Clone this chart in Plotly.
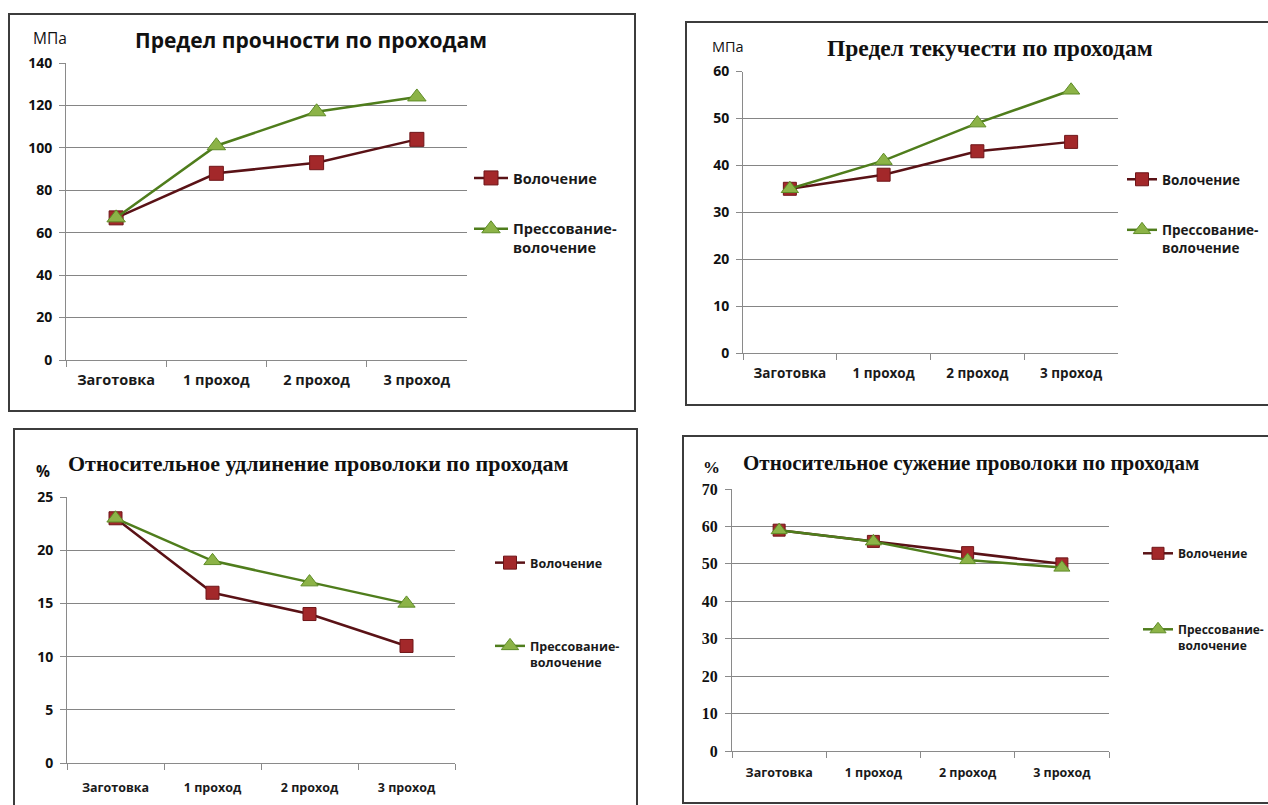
import plotly.graph_objects as go

# ---- data -------------------------------------------------------------
categories = ["Заготовка", "1 проход", "2 проход", "3 проход"]

strength_drawing = [67, 88, 93, 104]
strength_pressing = [67, 101, 117, 124]

yield_drawing = [35, 38, 43, 45]
yield_pressing = [35, 41, 49, 56]

elongation_drawing = [23, 16, 14, 11]
elongation_pressing = [23, 19, 17, 15]

reduction_drawing = [59, 56, 53, 50]
reduction_pressing = [59, 56, 51, 49]

series_names = ["Волочение", "Прессование-<br>волочение"]

# ---- page geometry (pixels) -------------------------------------------
W, H = 1268, 805


def px(x):
    return x / W


def py(y):
    return 1 - y / H


SANS = "Open Sans"
SERIF = "Liberation Serif"

DRAW_LINE = "#5a1216"
DRAW_FILL = "#a3282a"
DRAW_EDGE = "#6e1518"
PRESS_LINE = "#4f7d1c"
PRESS_FILL = "#8cb347"
PRESS_EDGE = "#5e8c27"

panels = [
    dict(title="Предел прочности по проходам", tfont=SANS, tsize=21, tx=311, ty=40,
         unit="МПа", ufont=SANS, usize=15.5, ux=50, uy=38, ubold=False,
         drawing=strength_drawing, pressing=strength_pressing,
         ymax=140, dtick=20, x0=66, x1=467, y0=63, y1=360,
         tickfont=SANS, ticksize=14, xsize=14.5, xstand=7, msize=14, lsize=14.5,
         box=(9, 14, 635, 411), leg=(469, 162), leggap=29, iw=34),
    dict(title="Предел текучести по проходам", tfont=SERIF, tsize=23.5, tx=990, ty=48,
         unit="МПа", ufont=SANS, usize=14.5, ux=728, uy=46, ubold=False,
         drawing=yield_drawing, pressing=yield_pressing,
         ymax=60, dtick=10, x0=743, x1=1118, y0=71.5, y1=353,
         tickfont=SANS, ticksize=14, xsize=13.5, xstand=8, msize=13, lsize=13.5,
         box=(686, 22, 1275, 405), leg=(1122, 164), leggap=30, iw=30),
    dict(title="Относительное удлинение проволоки по проходам", tfont=SERIF, tsize=22, tx=318, ty=463,
         unit="%", ufont=SANS, usize=15.5, ux=43, uy=471, ubold=True,
         drawing=elongation_drawing, pressing=elongation_pressing,
         ymax=25, dtick=5, x0=67, x1=455, y0=497, y1=763,
         tickfont=SANS, ticksize=14, xsize=12.5, xstand=13, msize=13, lsize=12.5,
         box=(14, 429, 637, 820), leg=(490, 548), leggap=64, iw=30),
    dict(title="Относительное сужение проволоки по проходам", tfont=SERIF, tsize=21, tx=971, ty=463,
         unit="%", ufont=SERIF, usize=17, ux=712, uy=467, ubold=True,
         drawing=reduction_drawing, pressing=reduction_pressing,
         ymax=70, dtick=10, x0=732, x1=1109, y0=489, y1=751,
         tickfont=SERIF, ticksize=16, xsize=12.5, xstand=10, msize=12, lsize=12,
         box=(683, 436, 1275, 803), leg=(1138, 539), leggap=57, iw=30),
]

fig = go.Figure()
layout = dict(
    width=W, height=H,
    margin=dict(l=0, r=0, t=0, b=0, autoexpand=False),
    paper_bgcolor="white", plot_bgcolor="white",
    annotations=[], shapes=[],
)

for i, p in enumerate(panels, start=1):
    sfx = "" if i == 1 else str(i)
    xa, ya = "x" + sfx, "y" + sfx
    leg = "legend" + sfx

    fig.add_trace(go.Scatter(
        x=categories, y=p["drawing"], name=series_names[0],
        xaxis=xa, yaxis=ya, legend=leg, legendgroup="d" + sfx,
        mode="lines+markers",
        line=dict(color=DRAW_LINE, width=2.5),
        marker=dict(symbol="square", size=p["msize"], color=DRAW_FILL,
                    line=dict(color=DRAW_EDGE, width=1)),
    ))
    fig.add_trace(go.Scatter(
        x=categories, y=p["pressing"], name=series_names[1],
        xaxis=xa, yaxis=ya, legend=leg, legendgroup="p" + sfx,
        mode="lines+markers",
        line=dict(color=PRESS_LINE, width=2.5),
        marker=dict(symbol="triangle-up", size=p["msize"] + 2, color=PRESS_FILL,
                    line=dict(color=PRESS_EDGE, width=1)),
    ))

    layout["xaxis" + sfx] = dict(
        domain=[px(p["x0"]), px(p["x1"])], anchor=ya,
        type="category", range=[-0.5, 3.5],
        showgrid=False, showline=True, linecolor="#8a8a8a", linewidth=1,
        ticks="outside", tickson="boundaries", ticklen=6, tickcolor="#8a8a8a",
        ticklabelstandoff=p["xstand"],
        tickfont=dict(family=SANS, size=p["xsize"], color="#1a1a1a", weight="bold"),
        fixedrange=True,
    )
    layout["yaxis" + sfx] = dict(
        domain=[py(p["y1"]), py(p["y0"])], anchor=xa,
        range=[0, p["ymax"]], dtick=p["dtick"], tick0=0,
        showgrid=True, gridcolor="#858585", gridwidth=1,
        showline=True, linecolor="#8a8a8a", linewidth=1, zeroline=False,
        ticks="outside", ticklen=6, tickcolor="#8a8a8a", ticklabelstandoff=4,
        tickfont=dict(family=p["tickfont"], size=p["ticksize"], color="#111111", weight="bold"),
        fixedrange=True,
    )
    layout[leg] = dict(
        x=px(p["leg"][0]), y=py(p["leg"][1]), xanchor="left", yanchor="top",
        bgcolor="rgba(0,0,0,0)", borderwidth=0, valign="top",
        tracegroupgap=p["leggap"], itemwidth=p["iw"],
        font=dict(family=SANS, size=p["lsize"], color="#1a1a1a", weight="bold"),
    )

    layout["annotations"].append(dict(
        xref="paper", yref="paper", x=px(p["tx"]), y=py(p["ty"]),
        xanchor="center", yanchor="middle", showarrow=False,
        text="<b>%s</b>" % p["title"],
        font=dict(family=p["tfont"], size=p["tsize"], color="#111111"),
    ))
    utext = "<b>%s</b>" % p["unit"] if p["ubold"] else p["unit"]
    layout["annotations"].append(dict(
        xref="paper", yref="paper", x=px(p["ux"]), y=py(p["uy"]),
        xanchor="center", yanchor="middle", showarrow=False,
        text=utext, font=dict(family=p["ufont"], size=p["usize"], color="#111111"),
    ))

    bx0, by0, bx1, by1 = p["box"]
    layout["shapes"].append(dict(
        type="rect", xref="paper", yref="paper",
        x0=px(bx0), x1=px(bx1), y0=py(by1), y1=py(by0),
        line=dict(color="#3c3c3c", width=2), fillcolor="rgba(0,0,0,0)", layer="below",
    ))

fig.update_layout(**layout)
fig.write_html("out.html")
